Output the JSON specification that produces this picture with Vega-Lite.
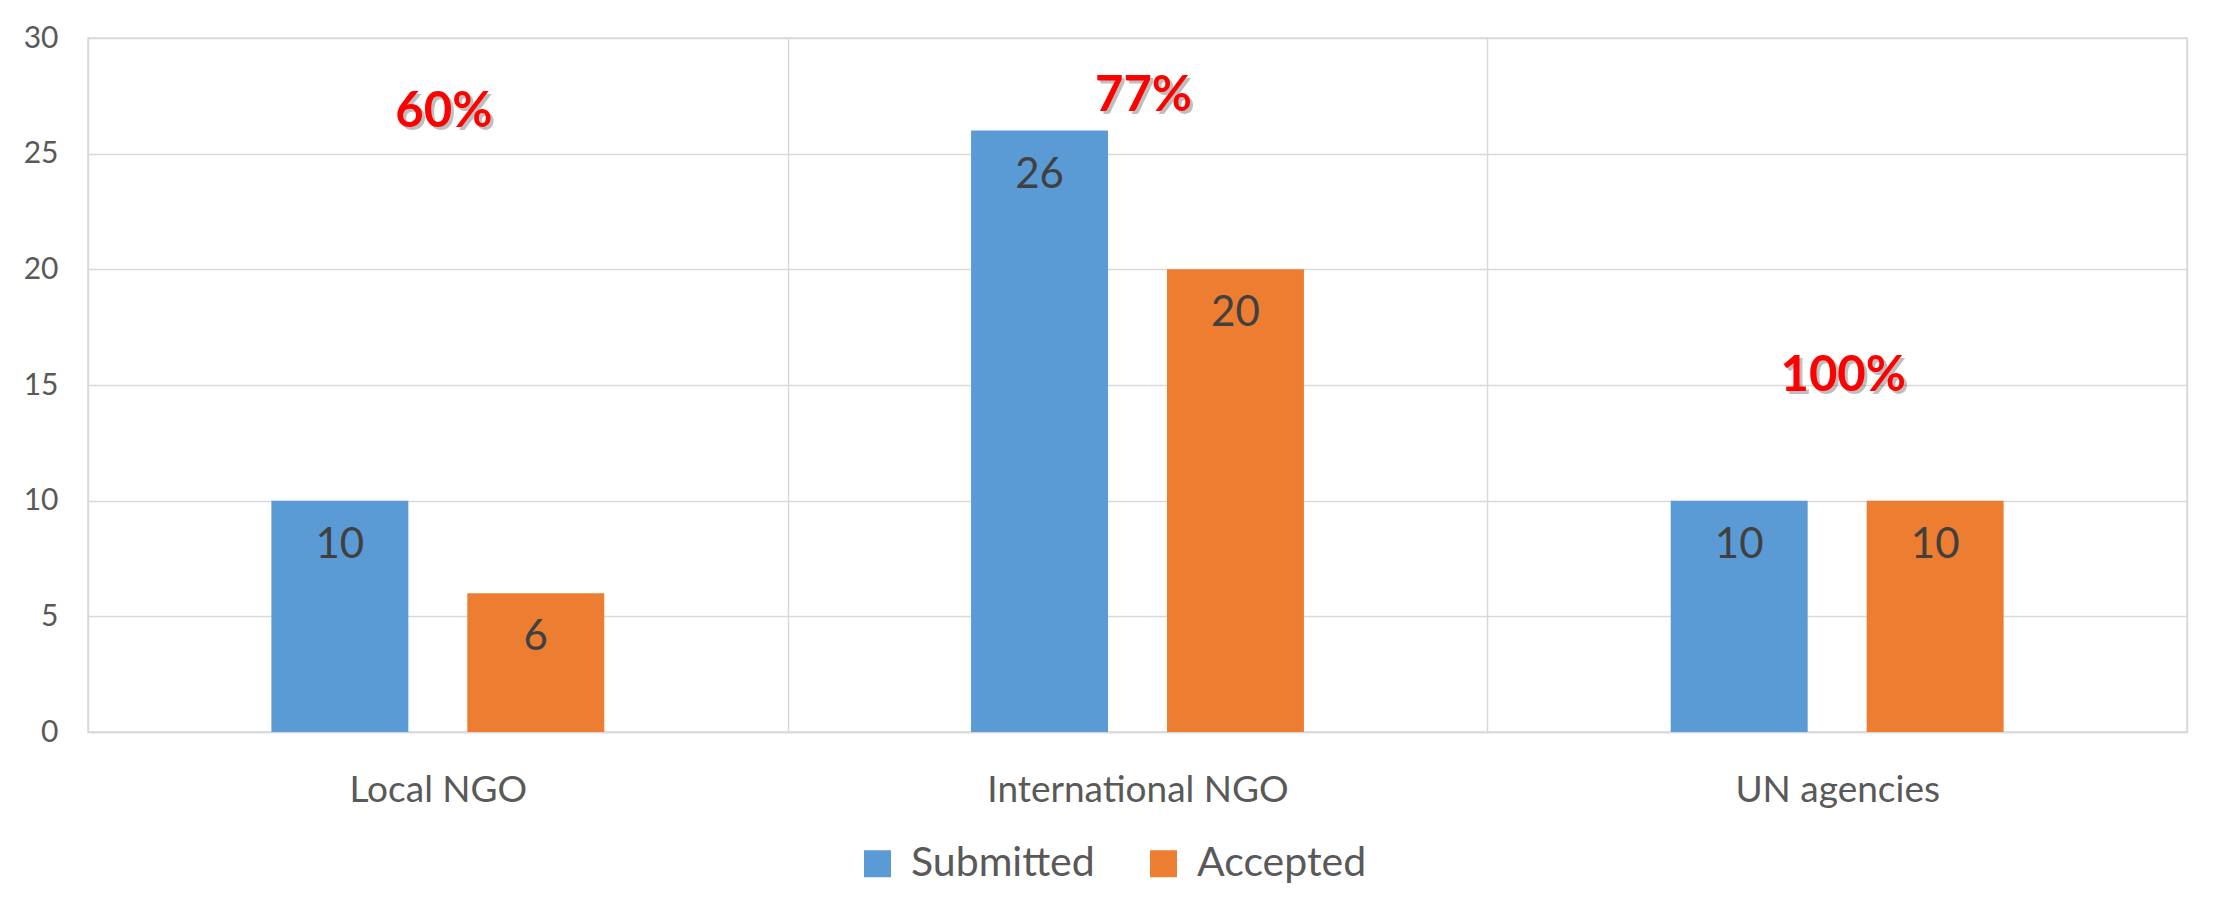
{
  "$schema": "https://vega.github.io/schema/vega-lite/v6.json",
  "autosize": {"type": "none"},
  "padding": {"left": 88, "top": 38, "right": 34, "bottom": 181},
  "width": 2099,
  "height": 694,
  "background": "white",
  "config": {
    "font": "Lato",
    "view": {"stroke": "#d9d9d9", "strokeWidth": 1.5}
  },
  "datasets": {
    "bars": [
      {"org": "Local NGO", "status": "Submitted", "count": 10},
      {"org": "Local NGO", "status": "Accepted", "count": 6},
      {"org": "International NGO", "status": "Submitted", "count": 26},
      {"org": "International NGO", "status": "Accepted", "count": 20},
      {"org": "UN agencies", "status": "Submitted", "count": 10},
      {"org": "UN agencies", "status": "Accepted", "count": 10}
    ],
    "pct": [
      {"org": "Local NGO", "label": "60%", "y": 26.8},
      {"org": "International NGO", "label": "77%", "y": 27.5},
      {"org": "UN agencies", "label": "100%", "y": 15.4}
    ]
  },
  "encoding": {
    "x": {
      "field": "org", "type": "nominal",
      "sort": ["Local NGO", "International NGO", "UN agencies"],
      "scale": {"paddingInner": 0, "paddingOuter": 0},
      "axis": {
        "title": null, "labelAngle": 0, "labelFontSize": 37, "labelColor": "#595959",
        "labelPadding": 40, "labelLimit": 0, "ticks": false, "tickBand": "extent",
        "grid": true, "gridColor": "#d9d9d9", "gridWidth": 1.5,
        "domainColor": "#d9d9d9", "domainWidth": 1.5
      }
    }
  },
  "layer": [
    {
      "data": {"name": "bars"},
      "mark": {"type": "bar"},
      "encoding": {
        "xOffset": {
          "field": "status", "type": "nominal", "sort": ["Submitted", "Accepted"],
          "scale": {"paddingInner": 0.301, "paddingOuter": 0.936}
        },
        "y": {
          "field": "count", "type": "quantitative",
          "scale": {"domain": [0, 30], "nice": false},
          "axis": {
            "title": null, "values": [0, 5, 10, 15, 20, 25, 30], "labelFontSize": 30,
            "labelColor": "#595959", "ticks": false, "domain": false, "labelPadding": 30,
            "gridColor": "#d9d9d9", "gridWidth": 1.5
          }
        },
        "color": {
          "field": "status", "type": "nominal", "sort": ["Submitted", "Accepted"],
          "scale": {"domain": ["Submitted", "Accepted"], "range": ["#5b9bd5", "#ed7d31"]},
          "legend": {
            "title": null, "orient": "none", "direction": "horizontal",
            "legendX": 769, "legendY": 805,
            "symbolType": "square", "symbolSize": 729, "symbolStrokeWidth": 0,
            "labelFontSize": 41, "labelColor": "#595959", "labelOffset": 13,
            "labelLimit": 0, "columnPadding": 48
          }
        }
      }
    },
    {
      "data": {"name": "bars"},
      "mark": {"type": "text", "baseline": "middle", "dy": 44, "fontSize": 42, "color": "#404040"},
      "encoding": {
        "xOffset": {
          "field": "status", "type": "nominal", "sort": ["Submitted", "Accepted"],
          "scale": {"paddingInner": 0.301, "paddingOuter": 0.936}
        },
        "y": {"field": "count", "type": "quantitative"},
        "text": {"field": "count", "type": "quantitative"}
      }
    },
    {
      "data": {"name": "pct"},
      "mark": {"type": "text", "baseline": "middle", "dx": 9, "dy": 3, "fontSize": 49, "fontWeight": "bold", "color": "#000000", "opacity": 0.25},
      "encoding": {
        "y": {"field": "y", "type": "quantitative"},
        "text": {"field": "label", "type": "nominal"}
      }
    },
    {
      "data": {"name": "pct"},
      "mark": {"type": "text", "baseline": "middle", "dx": 6, "fontSize": 49, "fontWeight": "bold", "color": "#ff0000"},
      "encoding": {
        "y": {"field": "y", "type": "quantitative"},
        "text": {"field": "label", "type": "nominal"}
      }
    }
  ]
}
